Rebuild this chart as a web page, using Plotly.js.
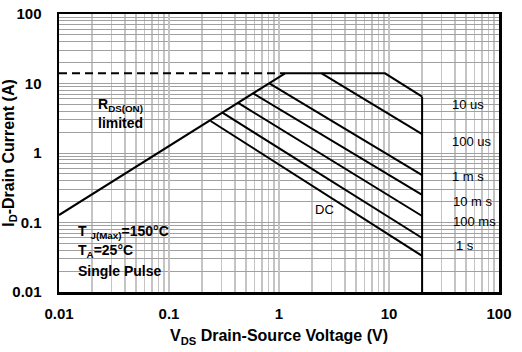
<!DOCTYPE html>
<html>
<head>
<meta charset="utf-8">
<script src="https://cdn.plot.ly/plotly-3.0.1.min.js"></script>
<style>html,body{margin:0;padding:0;background:#fff;}#chart{width:522px;height:352px;}</style>
</head>
<body>
<div id="chart"></div>
<script>
// RDS(ON) limit line
const rdsX = [0.01, 1.135];
const rdsY = [0.128, 14];
// Dashed package current limit
const limX = [0.01, 1.135];
const limY = [14, 14];
// 10 us boundary (top + corner)
const us10X = [1.135, 9.2, 20];
const us10Y = [14, 14, 6.46];
// Max VDS vertical
const vdsX = [20, 20];
const vdsY = [6.46, 0.01];
// Pulse lines
const us100X = [2.44, 20];  const us100Y = [14, 1.87];
const ms1X = [0.817, 20];   const ms1Y = [10.07, 0.482];
const ms10X = [0.583, 20];  const ms10Y = [7.22, 0.249];
const ms100X = [0.422, 20]; const ms100Y = [5.29, 0.124];
const s1X = [0.306, 20];    const s1Y = [3.80, 0.0598];
const dcX = [0.239, 20];    const dcY = [2.89, 0.033];

const xTicks = [0.01, 0.1, 1, 10, 100];
const xTickText = ['0.01', '0.1', '1', '10', '100'];
const yTicks = [0.01, 0.1, 1, 10, 100];
const yTickText = ['0.01', '0.1', '1', '10', '100'];

const solid = {color: '#000', width: 2};
function tr(x, y, line) { return {x: x, y: y, mode: 'lines', line: line, hoverinfo: 'skip', showlegend: false}; }

const data = [
  tr(rdsX, rdsY, solid),
  tr(limX, limY, {color: '#000', width: 2, dash: '8px,5px'}),
  tr(us10X, us10Y, solid),
  tr(vdsX, vdsY, solid),
  tr(us100X, us100Y, solid),
  tr(ms1X, ms1Y, solid),
  tr(ms10X, ms10Y, solid),
  tr(ms100X, ms100Y, solid),
  tr(s1X, s1Y, solid),
  tr(dcX, dcY, solid)
];

const bold = {family: 'Liberation Sans, Arial, sans-serif', size: 14, color: '#000', weight: 'bold'};
const tickF = {family: 'Liberation Sans, Arial, sans-serif', size: 15, color: '#000', weight: 'bold'};
const titleF = {family: 'Liberation Sans, Arial, sans-serif', size: 16, color: '#000', weight: 'bold'};
const lab = {family: 'Liberation Sans Narrow, Liberation Sans, Arial, sans-serif', size: 13, color: '#000'};

function ann(text, x, y, font, anchor) {
  return {text: text, x: x, y: y, xref: 'paper', yref: 'paper', xanchor: anchor || 'left', yanchor: 'middle', showarrow: false, font: font};
}

const layout = {
  width: 522, height: 352,
  margin: {l: 59, r: 23, t: 14, b: 60},
  paper_bgcolor: '#fff', plot_bgcolor: '#fff',
  xaxis: {
    type: 'log', range: [-2, 2],
    tickvals: xTicks, ticktext: xTickText,
    tickfont: tickF, ticks: '', ticklabelstandoff: 6,
    showline: true, linecolor: '#000', linewidth: 2.5, mirror: true,
    showgrid: true, gridcolor: '#c4c4c4', gridwidth: 1.5,
    minor: {dtick: 'D1', showgrid: true, gridcolor: '#c4c4c4', gridwidth: 1.5, ticks: ''},
    zeroline: false,
    title: {text: 'V<sub>DS</sub> Drain-Source Voltage (V)', font: titleF, standoff: 10}
  },
  yaxis: {
    type: 'log', range: [-2, 2],
    tickvals: yTicks, ticktext: yTickText,
    tickfont: tickF, ticks: '', ticklabelstandoff: 12,
    showline: true, linecolor: '#000', linewidth: 2.5, mirror: true,
    showgrid: true, gridcolor: '#a0a0a0', gridwidth: 1,
    minor: {dtick: 'D1', showgrid: true, gridcolor: '#a0a0a0', gridwidth: 1, ticks: ''},
    zeroline: false,
    title: {text: 'I<sub>D</sub>-Drain Current (A)', font: titleF, standoff: 0}
  },
  annotations: [
    ann('R<sub>DS(ON)</sub>', 0.084, 0.673, bold),
    ann('limited', 0.084, 0.608, bold),
    ann('T <sub>J(Max)</sub>=150°C', 0.038, 0.216, bold),
    ann('T<sub>A</sub>=25°C', 0.038, 0.147, bold),
    ann('Single Pulse', 0.038, 0.0755, bold),
    ann('10 us', 0.888, 0.673, lab),
    ann('100 us', 0.888, 0.543, lab),
    ann('1 m s', 0.888, 0.414, lab),
    ann('10 m s', 0.892, 0.324, lab),
    ann('100 ms', 0.892, 0.255, lab),
    ann('1 s', 0.897, 0.169, lab),
    ann('DC', 0.577, 0.295, lab)
  ]
};

Plotly.newPlot('chart', data, layout, {staticPlot: true, displayModeBar: false});
</script>
</body>
</html>
